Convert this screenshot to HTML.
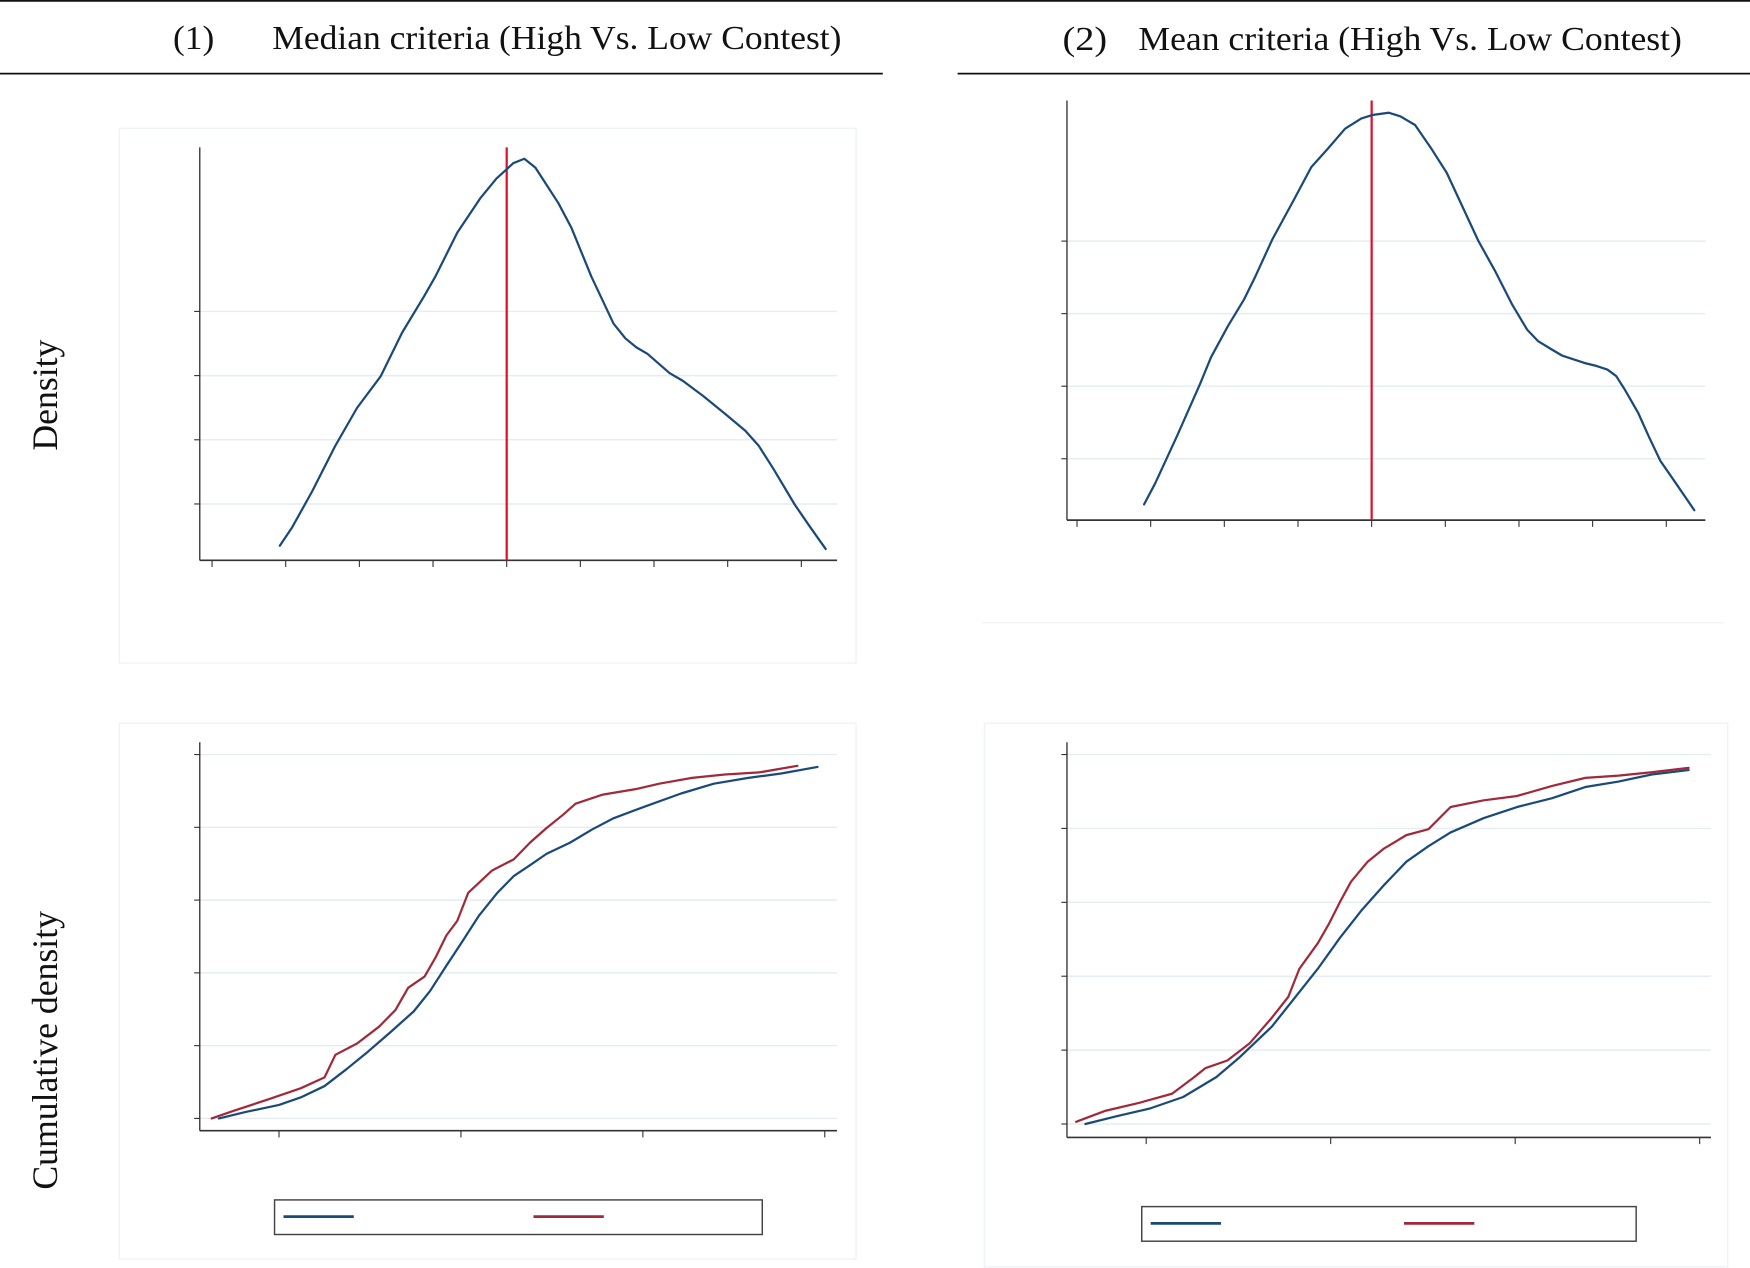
<!DOCTYPE html>
<html><head><meta charset="utf-8"><style>
html,body{margin:0;padding:0;background:#fff;}
svg{display:block;}
text{font-family:"Liberation Serif",serif;fill:#111;}
</style></head><body>
<svg id="fig" width="1750" height="1268" viewBox="0 0 1568 1136" preserveAspectRatio="none" xmlns="http://www.w3.org/2000/svg">
<line x1="0" y1="0.8" x2="1568" y2="0.8" stroke="#111" stroke-width="1.6"/>
<line x1="0" y1="66" x2="791" y2="66" stroke="#111" stroke-width="1.6"/>
<line x1="858" y1="66" x2="1568" y2="66" stroke="#111" stroke-width="1.6"/>
<text x="155" y="44" font-size="30" textLength="37" lengthAdjust="spacingAndGlyphs">(1)</text>
<text x="244" y="44" font-size="30" textLength="510" lengthAdjust="spacingAndGlyphs">Median criteria  (High Vs. Low Contest)</text>
<text x="952" y="45" font-size="30" textLength="40" lengthAdjust="spacingAndGlyphs">(2)</text>
<text x="1020" y="45" font-size="30" textLength="487" lengthAdjust="spacingAndGlyphs">Mean criteria (High Vs. Low Contest)</text>
<text transform="translate(51,354) rotate(-90)" text-anchor="middle" font-size="32">Density</text>
<text transform="translate(51,941) rotate(-90)" text-anchor="middle" font-size="32">Cumulative density</text>
<rect x="107" y="115" width="660" height="479" fill="none" stroke="#eef3f5" stroke-width="1.2"/>
<line x1="880" y1="558" x2="1545" y2="558" stroke="#f0f4f5" stroke-width="1.2"/>
<rect x="107" y="648" width="660" height="480" fill="none" stroke="#eef3f5" stroke-width="1.2"/>
<rect x="882" y="648" width="666" height="487" fill="none" stroke="#eef3f5" stroke-width="1.2"/>
<g id="layer"></g>
</svg>
<script>
const tlX=[0.92,1.09,1.36,1.67,1.97,2.29,2.58,2.88,3.03,3.33,3.64,3.86,4.09,4.24,4.39,4.70,4.88,5.15,5.45,5.61,5.76,5.91,6.21,6.39,6.67,6.97,7.24,7.42,7.62,7.91,8.12,8.33];
const tlY=[0.35,0.64,1.20,1.90,2.50,2.99,3.67,4.24,4.54,5.23,5.76,6.07,6.31,6.38,6.24,5.69,5.30,4.54,3.81,3.58,3.44,3.34,3.04,2.92,2.68,2.40,2.14,1.91,1.55,0.99,0.64,0.30];
const tlMedian=4;
const trX=[0.91,1.06,1.36,1.67,1.82,2.05,2.27,2.42,2.65,2.95,3.18,3.41,3.64,3.86,4.02,4.23,4.39,4.59,4.80,5.02,5.23,5.45,5.68,5.91,6.11,6.26,6.44,6.59,6.74,6.89,7.05,7.20,7.32,7.44,7.62,7.77,7.92,8.11,8.38];
const trY=[0.37,0.66,1.32,2.03,2.40,2.83,3.20,3.51,4.02,4.58,5.02,5.28,5.55,5.69,5.74,5.77,5.72,5.60,5.29,4.94,4.48,4.00,3.58,3.12,2.78,2.62,2.51,2.42,2.37,2.32,2.28,2.23,2.14,1.95,1.63,1.29,0.97,0.69,0.29];
const trMean=4;
const blBlueX=[-0.33,-0.18,0,0.12,0.25,0.37,0.49,0.61,0.74,0.83,0.92,1.01,1.10,1.20,1.29,1.38,1.47,1.60,1.72,1.84,2.02,2.21,2.39,2.58,2.76,2.96];
const blBlueY=[0,0.018,0.037,0.058,0.089,0.135,0.184,0.236,0.294,0.350,0.420,0.488,0.558,0.620,0.666,0.696,0.727,0.758,0.794,0.825,0.859,0.893,0.920,0.936,0.948,0.966];
const blRedX=[-0.37,-0.25,-0.06,0.12,0.25,0.31,0.43,0.55,0.64,0.71,0.80,0.86,0.92,0.98,1.04,1.17,1.29,1.38,1.47,1.56,1.63,1.78,1.96,2.09,2.27,2.45,2.64,2.85];
const blRedY=[0,0.021,0.052,0.083,0.113,0.175,0.206,0.252,0.298,0.359,0.390,0.442,0.503,0.543,0.620,0.681,0.712,0.758,0.798,0.834,0.865,0.890,0.905,0.920,0.936,0.945,0.951,0.969];
const brBlueX=[-0.33,-0.16,0.02,0.20,0.38,0.50,0.68,0.80,0.93,1.05,1.17,1.29,1.41,1.53,1.65,1.83,2.01,2.20,2.38,2.56,2.74,2.94];
const brBlueY=[0,0.021,0.042,0.073,0.127,0.178,0.263,0.338,0.420,0.504,0.580,0.647,0.710,0.752,0.789,0.828,0.858,0.882,0.912,0.927,0.946,0.958];
const brRedX=[-0.38,-0.22,-0.04,0.14,0.26,0.32,0.44,0.56,0.68,0.77,0.83,0.93,0.99,1.05,1.11,1.20,1.29,1.41,1.53,1.65,1.83,2.01,2.20,2.38,2.56,2.74,2.94];
const brRedY=[0.006,0.036,0.057,0.082,0.127,0.151,0.172,0.218,0.287,0.344,0.420,0.489,0.541,0.601,0.656,0.710,0.746,0.782,0.798,0.858,0.876,0.888,0.915,0.937,0.943,0.952,0.964];
const densGrid=[1,2,3,4];
const densTicks=[0,1,2,3,4,5,6,7,8];
const cdfGrid=[0,0.2,0.4,0.6,0.8,1];
const cdfTicks=[0,1,2,3];

const NS='http://www.w3.org/2000/svg';
const layer=document.getElementById('layer');
function mk(tag,attrs){const e=document.createElementNS(NS,tag);for(const k in attrs)e.setAttribute(k,attrs[k]);layer.appendChild(e);return e;}
function panel(p,name){
  const sx=v=>p.x0+v*p.xu, sy=v=>p.y0-v*p.yu;
  p.grid.forEach(g=>{
    const l=mk('line',{x1:p.ax,y1:sy(g),x2:p.ar,y2:sy(g),stroke:'#e4edf0','stroke-width':1.3});
    
    
    const t=mk('line',{x1:p.ax-5,y1:sy(g),x2:p.ax,y2:sy(g),stroke:'#333','stroke-width':1});
    
    
  });
  p.ticks.forEach(v=>{
    const t=mk('line',{x1:sx(v),y1:p.ab,x2:sx(v),y2:p.ab+6,stroke:'#333','stroke-width':1});
    
    
  });
  const ya=mk('line',{x1:p.ax,y1:p.at,x2:p.ax,y2:p.ab,stroke:'#333','stroke-width':1.2});
  
  
  const xa=mk('line',{x1:p.ax,y1:p.ab,x2:p.ar,y2:p.ab,stroke:'#333','stroke-width':1.5});
  
  
  if(p.vline!==undefined){
    const v=mk('line',{x1:sx(p.vline),y1:p.at,x2:sx(p.vline),y2:p.ab,stroke:'#e0102a','stroke-width':2});
    
    
  }
  p.series.forEach(s=>{
    const pts=s.x.map((v,i)=>sx(v).toFixed(1)+','+sy(s.y[i]).toFixed(1)).join(' ');
    const pl=mk('polyline',{points:pts,fill:'none',stroke:s.c,'stroke-width':2,'stroke-linejoin':'round','stroke-linecap':'round'});
    
    
  });
  if(p.leg){
    const L=p.leg;
    const r=mk('rect',{x:L.x,y:L.y,width:L.w,height:31,fill:'#fff',stroke:'#444','stroke-width':1.3});
    
    
    const b=mk('line',{x1:L.b,y1:L.y+15,x2:L.b+63,y2:L.y+15,stroke:'#1a4a7a','stroke-width':2.5});
    
    
    const rr=mk('line',{x1:L.r,y1:L.y+15,x2:L.r+63,y2:L.y+15,stroke:'#a02a3a','stroke-width':2.5});
    
    
  }
}
const BLUE='#1a4a7a', RED='#a02a3a';
panel({x0:190,xu:66,y0:509,yu:57.5,ax:179,ar:750,at:132,ab:502,grid:densGrid,ticks:densTicks,vline:tlMedian,
  series:[{x:tlX,y:tlY,c:BLUE,n:'density-curve'}]},'density-median');
panel({x0:965,xu:66,y0:476,yu:65,ax:956,ar:1528,at:90,ab:466,grid:densGrid,ticks:densTicks,vline:trMean,
  series:[{x:trX,y:trY,c:BLUE,n:'density-curve'}]},'density-mean');
panel({x0:250,xu:163,y0:1002,yu:326,ax:179,ar:750,at:665,ab:1013,grid:cdfGrid,ticks:cdfTicks,
  series:[{x:blBlueX,y:blBlueY,c:BLUE,n:'cdf-low'},{x:blRedX,y:blRedY,c:RED,n:'cdf-high'}],
  leg:{x:246,y:1075,w:437,b:254,r:478}},'cdf-median');
panel({x0:1027,xu:165.3,y0:1007,yu:331,ax:956,ar:1533,at:665,ab:1019,grid:cdfGrid,ticks:cdfTicks,
  series:[{x:brBlueX,y:brBlueY,c:BLUE,n:'cdf-low'},{x:brRedX,y:brRedY,c:RED,n:'cdf-high'}],
  leg:{x:1023,y:1081,w:443,b:1031,r:1258}},'cdf-mean');
</script>
</body></html>
